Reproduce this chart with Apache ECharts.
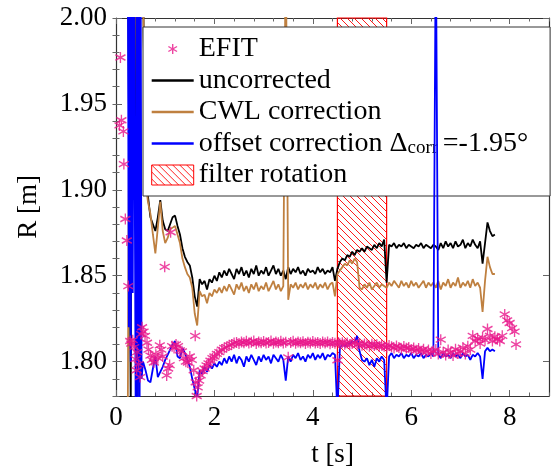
<!DOCTYPE html>
<html><head><meta charset="utf-8">
<script src="https://cdn.jsdelivr.net/npm/echarts@6/dist/echarts.min.js"></script>
<style>html,body{margin:0;padding:0;background:#fff}#c{width:558px;height:473px}</style>
</head><body><div id="c"></div>
<script>
// ---------- data ----------
const xTicks = [0, 2, 4, 6, 8];
const yTicks = [1.80, 1.85, 1.90, 1.95, 2.00];
const seriesNames = ['EFIT', 'uncorrected', 'CWL correction', 'offset correction Δcorr=-1.95°', 'filter rotation'];
const filterSpan = [4.5, 5.5];

const tLine = [
  0.24,0.26,0.28,0.30,0.32,0.34,0.36,0.38,0.40,0.42,0.44,0.46,0.48,0.50,0.52,0.55,
  0.60,0.65,0.70,0.75,0.80,0.85,0.90,0.95,1.00,1.05,
  1.10,1.15,1.20,1.25,1.30,1.35,1.40,1.45,1.50,1.55,
  1.60,1.65,1.70,1.75,1.80,1.85,1.90,1.95,2.00,2.05,
  2.10,2.15,2.20,2.25,2.30,2.35,2.40,2.45,2.50,2.55,
  2.60,2.65,2.70,2.75,2.80,2.85,2.90,2.95,3.00,3.05,
  3.10,3.15,3.20,3.25,3.30,3.35,3.40,3.45,3.50,3.55,
  3.60,3.65,3.70,3.75,3.80,3.85,3.90,3.95,4.00,4.05,
  4.10,4.15,4.20,4.25,4.30,4.35,4.40,4.45,4.50,4.55,
  4.60,4.65,4.70,4.75,4.80,4.85,4.90,4.95,5.00,5.05,
  5.10,5.15,5.20,5.25,5.30,5.35,5.40,5.45,5.50,5.55,
  5.60,5.65,5.70,5.75,5.80,5.85,5.90,5.95,6.00,6.05,
  6.10,6.15,6.20,6.25,6.30,6.35,6.40,6.45,6.50,6.55,
  6.60,6.65,6.70,6.75,6.80,6.85,6.90,6.95,7.00,7.05,
  7.10,7.15,7.20,7.25,7.30,7.35,7.40,7.45,7.50,7.55,
  7.60,7.65,7.70
];

const rUncorrected = [
  2.05,2.05,2.05,1.77,2.05,2.05,2.05,2.05,2.05,1.77,2.05,2.05,2.05,2.05,2.05,2.02,
  1.905,1.896,1.884,1.880,1.876,1.884,1.894,1.882,1.877,1.876,
  1.880,1.884,1.885,1.879,1.874,1.866,1.861,1.858,1.856,1.849,
  1.838,1.832,1.848,1.845,1.847,1.842,1.848,1.846,1.850,1.847,
  1.852,1.849,1.853,1.850,1.854,1.851,1.848,1.854,1.851,1.855,
  1.850,1.853,1.849,1.854,1.851,1.856,1.850,1.853,1.851,1.855,
  1.850,1.853,1.856,1.851,1.854,1.850,1.853,1.848,1.855,1.851,
  1.854,1.852,1.855,1.851,1.853,1.850,1.854,1.852,1.853,1.851,
  1.855,1.852,1.854,1.851,1.853,1.852,1.855,1.847,1.854,1.858,
  1.860,1.859,1.862,1.861,1.864,1.862,1.865,1.864,1.866,1.864,
  1.867,1.866,1.865,1.868,1.866,1.869,1.867,1.871,1.846,1.868,
  1.867,1.869,1.866,1.868,1.867,1.869,1.866,1.868,1.867,1.866,
  1.868,1.867,1.869,1.866,1.868,1.867,1.866,1.868,1.867,1.865,
  1.869,1.866,1.870,1.867,1.869,1.866,1.870,1.867,1.868,1.871,
  1.866,1.869,1.867,1.871,1.868,1.866,1.870,1.857,1.869,1.881,
  1.876,1.873,1.874
];

const rCWL = [
  1.77,1.77,2.05,2.05,2.05,2.05,2.05,2.05,2.05,2.05,2.05,1.77,2.05,2.05,2.05,2.02,
  1.905,1.893,1.886,1.874,1.863,1.878,1.893,1.876,1.869,1.872,
  1.877,1.878,1.879,1.874,1.869,1.860,1.855,1.851,1.849,1.843,
  1.828,1.821,1.841,1.838,1.839,1.834,1.840,1.838,1.842,1.840,
  1.843,1.840,1.844,1.841,1.845,1.842,1.839,1.845,1.842,1.846,
  1.841,1.844,1.840,1.845,1.842,1.846,1.841,1.844,1.842,1.846,
  1.841,1.844,1.847,1.842,1.845,1.841,1.844,2.050,1.836,1.845,
  1.843,1.846,1.842,1.845,1.843,1.846,1.842,1.845,1.843,1.846,
  1.842,1.845,1.843,1.846,1.842,1.845,1.846,1.838,1.851,1.853,
  1.855,1.857,1.856,1.859,1.857,1.860,1.858,1.843,1.842,1.845,
  1.843,1.846,1.842,1.844,1.846,1.843,1.845,1.844,1.843,1.846,
  1.844,1.847,1.845,1.843,1.847,1.844,1.846,1.843,1.847,1.844,
  1.846,1.843,1.845,1.847,1.843,1.846,1.844,1.846,1.843,1.847,
  1.842,1.846,1.844,1.848,1.843,1.846,1.844,1.849,1.843,1.846,
  1.844,1.847,1.843,1.848,1.844,1.846,1.843,1.829,1.847,1.861,
  1.855,1.851,1.851
];

const rOffset = [
  2.05,1.82,2.05,1.80,2.05,1.84,2.05,2.05,1.77,2.05,1.77,2.05,1.77,2.05,1.79,1.800,
  1.795,1.789,1.788,1.796,1.803,1.791,1.794,1.797,1.801,1.804,
  1.807,1.810,1.812,1.803,1.802,1.808,1.805,1.801,1.797,1.790,
  1.784,1.779,1.795,1.793,1.797,1.794,1.798,1.796,1.799,1.797,
  1.800,1.798,1.802,1.799,1.803,1.800,1.804,1.799,1.803,1.801,
  1.797,1.803,1.800,1.804,1.801,1.798,1.803,1.800,1.804,1.801,
  1.803,1.799,1.804,1.802,1.800,1.804,1.801,1.789,1.803,1.800,
  1.804,1.802,1.805,1.801,1.803,1.800,1.804,1.802,1.805,1.801,
  1.804,1.802,1.805,1.801,1.804,1.803,1.805,1.804,1.770,1.808,
  1.810,1.809,1.811,1.810,1.812,1.811,1.815,1.806,1.801,1.800,
  1.802,1.798,1.801,1.797,1.802,1.800,1.803,1.801,1.770,1.803,
  1.805,1.802,1.804,1.803,1.805,1.802,1.804,1.803,1.805,1.802,
  1.804,1.803,1.805,1.802,1.804,1.803,1.805,1.803,2.050,1.804,
  1.802,1.805,1.803,1.804,1.802,1.805,1.803,1.804,1.802,1.805,
  1.803,1.804,1.801,1.804,1.803,1.805,1.803,1.790,1.806,1.808,
  1.806,1.807,1.806
];

const efitT = [
  0.07,0.09,0.11,0.15,0.16,0.19,0.22,0.25,0.29,0.31,
  0.34,0.37,0.40,0.42,0.43,0.46,0.49,0.51,0.53,0.56,
  0.59,0.63,0.66,0.70,0.73,0.77,0.81,0.85,0.89,0.92,
  0.95,0.99,1.03,1.06,1.09,1.11,1.14,1.18,1.22,1.26,
  1.30,1.34,1.38,1.42,1.46,1.50,1.54,1.58,1.61,1.62,
  1.64,1.66,1.69,1.72,1.76,1.80,1.84,1.88,1.92,1.96,
  2.00,2.05,2.10,2.15,2.20,2.25,2.30,
  2.35,2.40,2.45,2.50,2.55,2.60,2.65,2.70,2.75,2.80,
  2.85,2.90,2.95,3.00,3.05,3.10,3.15,3.20,3.25,3.30,
  3.35,3.40,3.45,3.50,3.55,3.60,3.65,3.70,3.75,3.80,
  3.85,3.90,3.95,4.00,4.05,4.10,4.15,4.20,4.25,4.30,
  4.35,4.40,4.45,4.50,4.52,
  4.55,4.60,4.65,4.70,4.75,4.80,4.85,4.90,4.95,5.00,
  5.05,5.10,5.15,5.20,5.25,5.30,5.35,5.40,5.45,5.50,
  5.55,5.60,5.65,5.70,5.75,5.80,5.85,5.90,5.95,6.00,
  6.05,6.10,6.15,6.20,6.25,6.30,6.35,6.40,6.45,6.50,
  6.55,6.60,6.65,6.70,6.75,6.80,6.85,6.90,6.95,7.00,
  7.05,7.10,7.15,7.20,7.25,7.30,7.35,7.40,7.45,7.50,
  7.55,7.60,7.65,7.70,7.75,7.80,7.85,7.90,7.95,8.00,
  8.05,8.10,8.13
];

const efitR = [
  1.9375,1.9770,1.9405,1.9340,1.9150,1.8830,1.8705,1.8440,1.8120,1.8105,
  1.8125,1.8085,1.8015,1.7950,1.8055,1.7985,1.7910,1.8160,1.8200,1.8175,
  1.8150,1.8110,1.8070,1.8035,1.8010,1.7995,1.8040,1.8020,1.8095,1.8070,
  1.8030,1.8552,1.7920,1.7960,1.7980,1.8753,1.8090,1.8080,1.8100,1.8090,
  1.8065,1.8060,1.8020,1.8000,1.7995,1.8030,1.8010,1.7950,1.8150,1.7880,
  1.7800,1.7850,1.7890,1.7920,1.7945,1.7960,1.7978,1.7990,1.8005,1.8020,
  1.8030,1.8045,1.8055,1.8070,1.8080,1.8085,1.8095,
  1.8100,1.8108,1.8112,1.8105,1.8115,1.8110,1.8118,1.8108,1.8113,1.8120,
  1.8106,1.8114,1.8110,1.8117,1.8109,1.8112,1.8120,1.8107,1.8114,1.8110,
  1.8118,1.8108,1.8113,1.8025,1.8112,1.8119,1.8107,1.8114,1.8110,1.8116,
  1.8106,1.8113,1.8109,1.8117,1.8108,1.8112,1.8106,1.8114,1.8109,1.8115,
  1.8104,1.8111,1.8107,1.8008,1.8112,
  1.8104,1.8110,1.8101,1.8108,1.8098,1.8106,1.8112,1.8099,1.8105,1.8095,
  1.8103,1.8098,1.8090,1.8101,1.8094,1.8099,1.8088,1.8096,1.8090,1.8083,
  1.8094,1.8086,1.8080,1.8091,1.8083,1.8074,1.8088,1.8078,1.8082,1.8070,
  1.8079,1.8066,1.8076,1.8060,1.8072,1.8055,1.8068,1.8048,1.8062,1.8070,
  1.8045,1.8128,1.8055,1.8038,1.8068,1.8052,1.8035,1.8072,1.8048,1.8060,
  1.8082,1.8045,1.8090,1.8070,1.8150,1.8120,1.8135,1.8105,1.8140,1.8125,
  1.8190,1.8150,1.8120,1.8145,1.8130,1.8120,1.8150,1.8275,1.8240,1.8225,
  1.8195,1.8175,1.8100
];

// ---------- style ----------
const FONT = 'Liberation Serif';
const PINK = '#e8168b';
const BROWN = '#bf8040';
const BLUE = '#0000ff';
const AXIS = '#333';
const TICK = '#666';

const STAR = 'path://M0 -1 L0 1 M-0.866 -0.5 L0.866 0.5 M-0.866 0.5 L0.866 -0.5';
const STAR_LEG = 'path://M-4.2 -2 M4.2 2 M0 -1 L0 1 M-0.866 -0.5 L0.866 0.5 M-0.866 0.5 L0.866 -0.5';
const LINE_LEG = 'path://M0 -1 M4.2 1 M0 -0.125 L4.2 -0.125 L4.2 0.125 L0 0.125 Z';

const hatch = document.createElement('canvas');
hatch.width = 7; hatch.height = 7;
const g = hatch.getContext('2d');
g.strokeStyle = '#ff0000'; g.lineWidth = 0.9;
for (const k of [-7, 0, 7]) { g.beginPath(); g.moveTo(k, 0); g.lineTo(k + 7, 7); g.stroke(); }
const hatchFill = { image: hatch, repeat: 'repeat' };

const xMin = 0, xMax = 8.8, yMin = 1.78, yMax = 2.00;

function majorX(pos, labels) {
  return {
    type: 'value', position: pos, min: xMin, max: xMax, gridIndex: 0,
    axisLine: { show: true, onZero: false, lineStyle: { color: AXIS, width: 1.2 } },
    axisTick: { show: true, inside: true, length: 6, customValues: xTicks, lineStyle: { color: TICK, width: 1 } },
    axisLabel: { show: labels, customValues: xTicks, fontFamily: FONT, fontSize: 27, color: '#000', margin: 8 },
    splitLine: { show: false },
    name: labels ? 't [s]' : '', nameLocation: 'middle', nameGap: 45,
    nameTextStyle: { fontFamily: FONT, fontSize: 27, color: '#000' }
  };
}
function minorX(pos) {
  return {
    type: 'value', position: pos, min: xMin, max: xMax, interval: 0.4, gridIndex: 0,
    axisLine: { show: false }, axisLabel: { show: false }, splitLine: { show: false },
    axisTick: { show: true, inside: true, length: 3.5, lineStyle: { color: TICK, width: 1 } }
  };
}
function majorY(pos, labels) {
  return {
    type: 'value', position: pos, min: yMin, max: yMax, gridIndex: 0,
    axisLine: { show: true, onZero: false, lineStyle: { color: AXIS, width: 1.2 } },
    axisTick: { show: true, inside: true, length: 6, customValues: yTicks, lineStyle: { color: TICK, width: 1 } },
    axisLabel: { show: labels, customValues: yTicks, formatter: v => v.toFixed(2), fontFamily: FONT, fontSize: 27, color: '#000', margin: 9 },
    splitLine: { show: false },
    name: labels ? 'R [m]' : '', nameLocation: 'middle', nameGap: 74,
    nameTextStyle: { fontFamily: FONT, fontSize: 27, color: '#000' }
  };
}
function minorY(pos) {
  return {
    type: 'value', position: pos, min: yMin, max: yMax, interval: 0.01, gridIndex: 0,
    axisLine: { show: false }, axisLabel: { show: false }, splitLine: { show: false },
    axisTick: { show: true, inside: true, length: 3.5, lineStyle: { color: TICK, width: 1 } }
  };
}

const lineSeries = (name, vals, color, z) => ({
  name, type: 'line', xAxisIndex: 0, yAxisIndex: 0, z,
  data: tLine.map((t, i) => [t, vals[i]]),
  symbol: 'none', showSymbol: false, clip: true,
  lineStyle: { color, width: 1.8 }, itemStyle: { color },
  emphasis: { disabled: true }, silent: true
});

const chart = echarts.init(document.getElementById('c'), null, { renderer: 'canvas' });
chart.setOption({
  animation: false,
  backgroundColor: '#fff',
  grid: { left: 116, right: 9, top: 18, bottom: 74, containLabel: false },
  xAxis: [majorX('bottom', true), minorX('bottom'), majorX('top', false), minorX('top')],
  yAxis: [majorY('left', true), minorY('left'), majorY('right', false), minorY('right')],
  legend: {
    orient: 'vertical', left: 143, top: 27,
    backgroundColor: '#fff', borderColor: '#333', borderWidth: 1, borderRadius: 0,
    padding: [8, 22, 7, 8], itemGap: 3.5, itemWidth: 42, itemHeight: 20,
    selectedMode: false,
    textStyle: {
      fontFamily: FONT, fontSize: 28, color: '#000', lineHeight: 28,
      rich: {
        n: { fontFamily: FONT, fontSize: 28, lineHeight: 28, color: '#000' },
        sub: { fontFamily: FONT, fontSize: 19, lineHeight: 10, verticalAlign: 'bottom', color: '#000' }
      }
    },
    formatter: n => {
      const i = n.indexOf('Δcorr');
      if (i < 0) return n;
      return '{n|' + n.slice(0, i + 1) + '}{sub|corr }{n|' + n.slice(i + 5) + '}';
    },
    data: [
      { name: seriesNames[0], icon: STAR_LEG, itemStyle: { color: 'rgba(0,0,0,0)', borderColor: PINK, borderWidth: 1.4 } },
      { name: seriesNames[1], icon: LINE_LEG, itemStyle: { color: '#000000', borderWidth: 0 } },
      { name: seriesNames[2], icon: LINE_LEG, itemStyle: { color: BROWN, borderWidth: 0 } },
      { name: seriesNames[3], icon: LINE_LEG, itemStyle: { color: BLUE, borderWidth: 0 } },
      { name: seriesNames[4], icon: 'rect', itemStyle: { color: hatchFill, borderColor: '#ff0000', borderWidth: 1 } }
    ]
  },
  series: [
    {
      name: seriesNames[4], type: 'line', xAxisIndex: 0, yAxisIndex: 0, data: [], z: 6,
      symbol: 'none', itemStyle: { color: hatchFill, borderColor: '#ff0000', borderWidth: 1 },
      lineStyle: { color: '#ff0000' },
      markArea: {
        silent: true,
        itemStyle: { color: hatchFill, borderColor: '#ff0000', borderWidth: 1.2 },
        data: [[{ xAxis: filterSpan[0] }, { xAxis: filterSpan[1] }]]
      }
    },
    lineSeries(seriesNames[1], rUncorrected, '#000000', 2),
    lineSeries(seriesNames[2], rCWL, BROWN, 3),
    lineSeries(seriesNames[3], rOffset, BLUE, 4),
    {
      name: seriesNames[0], type: 'scatter', xAxisIndex: 0, yAxisIndex: 0, z: 5,
      data: efitT.map((t, i) => [t, efitR[i]]),
      symbol: STAR, symbolSize: [10, 11],
      itemStyle: { color: 'rgba(0,0,0,0)', borderColor: PINK, borderWidth: 1.4 },
      emphasis: { disabled: true }, silent: true, clip: true
    }
  ]
});
</script>
</body></html>
